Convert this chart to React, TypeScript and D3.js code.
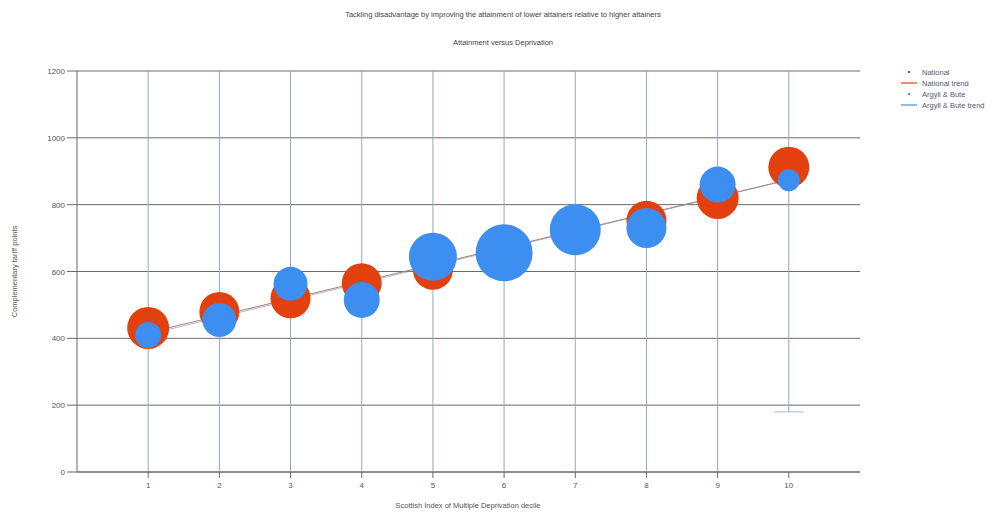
import React from "react";
import * as d3 from "d3";

const deciles = [1, 2, 3, 4, 5, 6, 7, 8, 9, 10];
const nationalValues = [431, 479, 520, 565, 605, 655, 720, 752, 820, 912];
const nationalSizes = [441, 400, 400, 400, 400, 400, 400, 400, 441, 420];
const argyllValues = [410, 455, 563, 515, 644, 656, 725, 730, 860, 873];
const argyllSizes = [170, 289, 289, 324, 576, 812, 650, 400, 324, 121];
const argyllLow = [0, 0, 0, 0, 0, 0, 0, 0, 0, 180];
const argyllHigh = [1200, 1200, 1200, 1200, 1200, 1200, 1200, 1200, 1200, 1200];
const yTicks = [0, 200, 400, 600, 800, 1000, 1200];
const legendItems = ["National", "National trend", "Argyll & Bute", "Argyll & Bute trend"];

const RED = "#e2410d";
const BLUE = "#3c8ef0";
const FONT = "Arial, 'Liberation Sans', sans-serif";

function regression(xs: number[], ys: number[]) {
  const mx = d3.mean(xs)!;
  const my = d3.mean(ys)!;
  const num = d3.sum(xs.map((x, i) => (x - mx) * (ys[i] - my)));
  const den = d3.sum(xs.map((x) => (x - mx) ** 2));
  const b = num / den;
  const a = my - b * mx;
  return (x: number) => a + b * x;
}

export default function App() {
  const W = 1003;
  const H = 512;
  const left = 77;
  const right = 860;
  const top = 71;
  const bottom = 472;
  const x = d3.scaleLinear().domain([0, 11]).range([left, right]);
  const y = d3.scaleLinear().domain([0, 1200]).range([bottom, top]);
  const r = d3.scaleSqrt().domain([0, 900]).range([0, 30]);

  const natFit = regression(deciles, nationalValues);
  const argFit = regression(deciles, argyllValues);
  const line = d3
    .line<number[]>()
    .x((d) => x(d[0]))
    .y((d) => y(d[1]));
  const natTrend = line([
    [1, natFit(1)],
    [10, natFit(10)],
  ]);
  const argTrend = line([
    [1, argFit(1)],
    [10, argFit(10)],
  ]);

  return (
    <svg width={W} height={H} style={{ position: "absolute", left: 0, top: 0, background: "#fff" }} fontFamily={FONT}>
      <rect width={W} height={H} fill="#fff" />
      <text x={503} y={17} textAnchor="middle" fontSize={7.5} fill="#444">
        Tackling disadvantage by improving the attainment of lower attainers relative to higher attainers
      </text>
      <text x={503} y={45} textAnchor="middle" fontSize={7.5} fill="#444">
        Attainment versus Deprivation
      </text>

      {/* horizontal gridlines */}
      {yTicks.map((t) => (
        <g key={t}>
          <line x1={left} x2={right} y1={y(t)} y2={y(t)} stroke="#6a6a6a" strokeWidth={1} />
          <line x1={left - 10} x2={left} y1={y(t)} y2={y(t)} stroke="#6a6a6a" strokeWidth={1} />
          <text x={left - 12} y={y(t) + 3} textAnchor="end" fontSize={8} fill="#555">
            {t}
          </text>
        </g>
      ))}
      <line x1={left} x2={left} y1={top} y2={bottom} stroke="#6a6a6a" strokeWidth={1} />

      {/* error bars (vertical) */}
      {deciles.map((d, i) => (
        <g key={"e" + d}>
          <line
            x1={x(d)}
            x2={x(d)}
            y1={y(argyllHigh[i])}
            y2={y(argyllLow[i])}
            stroke="#8fa9cc"
            strokeWidth={1}
          />
          {argyllLow[i] > 0 && (
            <line
              x1={x(d) - 15}
              x2={x(d) + 15}
              y1={y(argyllLow[i])}
              y2={y(argyllLow[i])}
              stroke="#9fc0ea"
              strokeWidth={1}
            />
          )}
        </g>
      ))}

      {/* x axis */}
      <line x1={left} x2={right} y1={bottom} y2={bottom} stroke="#6a6a6a" strokeWidth={1.2} />
      {deciles.map((d) => (
        <g key={"t" + d}>
          <line x1={x(d)} x2={x(d)} y1={bottom} y2={bottom + 6} stroke="#6a6a6a" />
          <text x={x(d)} y={bottom + 16} textAnchor="middle" fontSize={8} fill="#555">
            {d}
          </text>
        </g>
      ))}

      {/* trends */}
      <path d={natTrend || ""} stroke="#b08070" strokeWidth={1} fill="none" />
      <path d={argTrend || ""} stroke="#8090a8" strokeWidth={0.8} fill="none" opacity={0.8} />

      {/* bubbles */}
      {deciles.map((d, i) => (
        <circle key={"n" + d} cx={x(d)} cy={y(nationalValues[i])} r={r(nationalSizes[i])} fill={RED} />
      ))}
      {deciles.map((d, i) => (
        <circle key={"a" + d} cx={x(d)} cy={y(argyllValues[i])} r={r(argyllSizes[i])} fill={BLUE} />
      ))}

      {/* axis titles */}
      <text
        transform={`translate(17, ${(top + bottom) / 2}) rotate(-90)`}
        textAnchor="middle"
        fontSize={7.5}
        fill="#555"
      >
        Complementary tariff points
      </text>
      <text x={468} y={508} textAnchor="middle" fontSize={7.5} fill="#555">
        Scottish Index of Multiple Deprivation decile
      </text>

      {/* legend */}
      {legendItems.map((name, i) => {
        const ly = 72 + i * 11;
        const isTrend = name.endsWith("trend");
        const color = name.startsWith("National") ? RED : BLUE;
        return (
          <g key={name}>
            {isTrend ? (
              <line x1={901} x2={917} y1={ly} y2={ly} stroke={color} strokeWidth={1.2} />
            ) : (
              <rect x={908} y={ly - 1} width={2} height={2} fill={color} />
            )}
            <text x={922} y={ly + 3} fontSize={7.5} fill="#55557a">
              {name}
            </text>
          </g>
        );
      })}
    </svg>
  );
}
